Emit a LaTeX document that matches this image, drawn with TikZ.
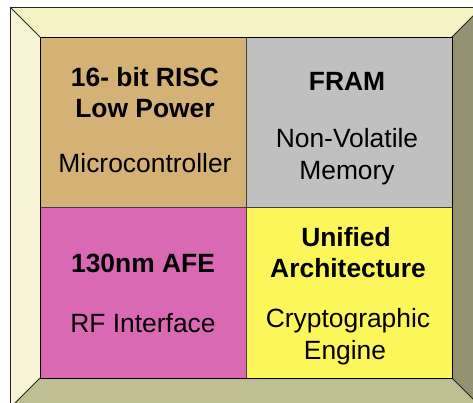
\documentclass[tikz,border=0pt]{standalone}
\usepackage{fontspec}
\setmainfont{Liberation Sans}
\definecolor{bandtop}{RGB}{245,242,198}
\definecolor{bandleft}{RGB}{248,245,214}
\definecolor{bandright}{RGB}{147,145,112}
\definecolor{bandbottom}{RGB}{192,190,147}
\definecolor{celltan}{RGB}{212,177,116}
\definecolor{cellgray}{RGB}{192,192,192}
\definecolor{cellpink}{RGB}{217,105,178}
\definecolor{cellyellow}{RGB}{252,246,90}
\tikzset{
  band/.style={draw=black!85, line width=0.8pt, line join=miter},
  cell/.style={draw=black!75, line width=0.8pt, inner sep=0pt, outer sep=0pt, anchor=north west},
  title/.style={anchor=base, inner sep=0pt, font=\fontsize{26.4}{30}\selectfont\bfseries},
  sub/.style={anchor=base, inner sep=0pt, font=\fontsize{26.4}{30}\selectfont},
}
\begin{document}
\begin{tikzpicture}[x=1pt, y=-1pt]
\useasboundingbox (0,0) rectangle (473,402);
\begin{scope}
\clip (0,0) rectangle (473,402);
% bevelled frame
\fill[bandtop] (10,7) -- (482,7) -- (452,37) -- (40,37) -- cycle;
\fill[bandleft] (10,7) -- (40,37) -- (40,378) -- (10,408) -- cycle;
\fill[bandright] (482,7) -- (482,408) -- (452,378) -- (452,37) -- cycle;
\fill[bandbottom] (10,408) -- (482,408) -- (452,378) -- (40,378) -- cycle;
\draw[band] (10,408) -- (10,7) -- (482,7) -- (482,408) -- cycle;
\draw[band] (10,7) -- (40,37);
\draw[band] (482,7) -- (452,37);
\draw[band] (10,408) -- (40,378);
\draw[band] (482,408) -- (452,378);
\end{scope}
% four blocks
\node[cell, fill=celltan, minimum width=206pt, minimum height=170pt] (mcu) at (40,37) {};
\node[cell, fill=cellgray, minimum width=206pt, minimum height=170pt] (fram) at (246,37) {};
\node[cell, fill=cellpink, minimum width=206pt, minimum height=171pt] (afe) at (40,207) {};
\node[cell, fill=cellyellow, minimum width=206pt, minimum height=171pt] (crypto) at (246,207) {};
\draw[black, line width=0.9pt] (40,37) rectangle (452,378);
% block texts
\node[title] (mcuA) at (145,86) {16- bit RISC};
\node[title] (mcuB) at (145,117) {Low Power};
\node[sub] (mcuC) at (145,172) {Microcontroller};
\node[title] (framA) at (347,90) {FRAM};
\node[sub] (framB) at (347,147) {Non-Volatile};
\node[sub] (framC) at (347,179) {Memory};
\node[title] (afeA) at (143,272) {130nm AFE};
\node[sub] (afeB) at (143,332) {RF Interface};
\node[title] (cryA) at (346,246) {Unified};
\node[title] (cryB) at (348,277) {Architecture};
\node[sub] (cryC) at (348,327) {Cryptographic};
\node[sub] (cryD) at (345,359) {Engine};
\end{tikzpicture}
\end{document}
